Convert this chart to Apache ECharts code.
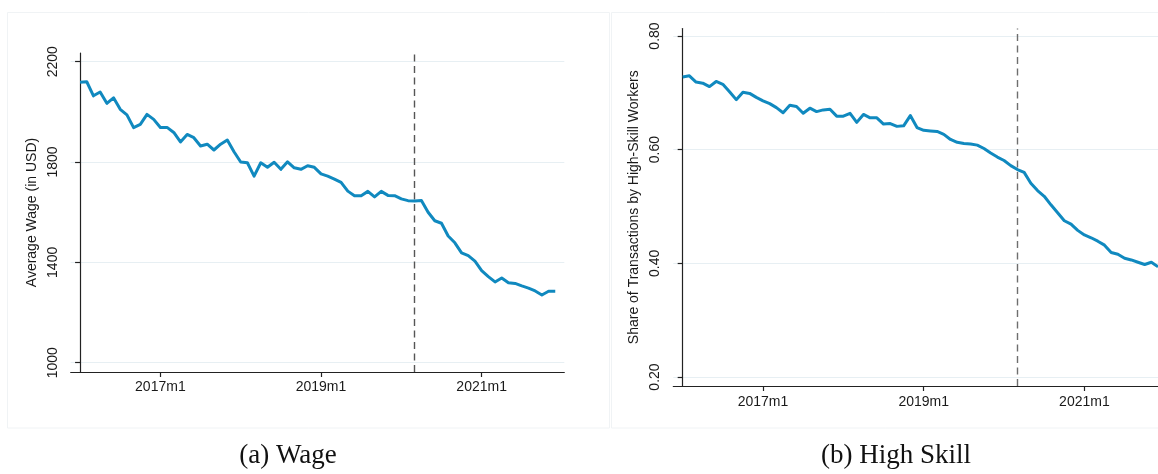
<!DOCTYPE html>
<html>
<head>
<meta charset="utf-8">
<script src="https://cdn.jsdelivr.net/npm/echarts@6/dist/echarts.min.js"></script>
<style>
  html, body { margin: 0; padding: 0; background: #ffffff; }
  #chart { width: 1158px; height: 474px; }
</style>
</head>
<body>
<div id="chart"></div>
<script>
// Monthly periods, 2016m1 .. 2021m12
const months = [];
for (let y = 2016; y <= 2021; y++) {
  for (let m = 1; m <= 12; m++) months.push(y + 'm' + m);
}

// Average wage (USD), one value per month
const avgWage = [
  2118, 2120, 2064, 2079, 2034, 2056, 2010, 1988, 1937, 1950, 1990, 1970,
  1938, 1938, 1918, 1880, 1910, 1897, 1864, 1871, 1848, 1871, 1888, 1841,
  1800, 1797, 1744, 1797, 1779, 1799, 1771, 1801, 1777, 1771, 1785, 1779,
  1753, 1744, 1732, 1719, 1684, 1666, 1666, 1683, 1661, 1683, 1667, 1666,
  1653, 1646, 1645, 1647, 1600, 1566, 1556, 1505, 1478, 1438, 1427, 1405,
  1367, 1343, 1322, 1338, 1319, 1316, 1306, 1297, 1286, 1270, 1285, 1285
];

// Share of transactions carried out by high-skill workers, one value per month
const highSkillShare = [
  0.728, 0.730, 0.719, 0.717, 0.711, 0.720, 0.715, 0.702, 0.688, 0.701, 0.699, 0.692,
  0.686, 0.681, 0.674, 0.665, 0.678, 0.676, 0.664, 0.673, 0.667, 0.670, 0.671, 0.659,
  0.659, 0.664, 0.648, 0.662, 0.656, 0.656, 0.645, 0.646, 0.641, 0.642, 0.660, 0.639,
  0.634, 0.633, 0.632, 0.627, 0.618, 0.613, 0.611, 0.610, 0.608, 0.602, 0.594, 0.587,
  0.581, 0.572, 0.565, 0.560, 0.541, 0.528, 0.518, 0.503, 0.489, 0.475, 0.469, 0.458,
  0.450, 0.445, 0.439, 0.432, 0.419, 0.416, 0.409, 0.406, 0.402, 0.398, 0.402, 0.394
];

// Axis ticks and the reference month
const xTickLabels = ['2017m1', '2019m1', '2021m1'];
const wageTicks = [1000, 1400, 1800, 2200];
const shareTicks = [0.2, 0.4, 0.6, 0.8];
const breakMonth = '2020m3';

const LINE_COLOR = '#1089bf';
const TEXT_COLOR = '#1a1a1a';
const SANS = 'Liberation Sans, Arial, sans-serif';
const SERIF = 'Liberation Serif, Times New Roman, serif';

const xTickValues = xTickLabels.map(l => months.indexOf(l));
const breakIndex = months.indexOf(breakMonth);

function xAxisFor(gridIndex, labelMargin) {
  return {
    type: 'value', gridIndex,
    min: -1.4, max: 72.35,
    axisLine: { show: true, lineStyle: { color: '#222', width: 1.2 } },
    axisTick: { show: true, length: 5, customValues: xTickValues,
                lineStyle: { color: '#222', width: 1.2 } },
    axisLabel: { customValues: xTickValues, margin: labelMargin,
                 formatter: v => months[Math.round(v)] || '',
                 color: TEXT_COLOR, fontSize: 14, fontFamily: SANS },
    splitLine: { show: false }
  };
}

function yAxisFor(gridIndex, opts) {
  return {
    type: 'value', gridIndex,
    min: opts.min, max: opts.max,
    name: opts.name, nameLocation: 'middle', nameGap: 32, nameRotate: 90,
    nameTextStyle: { color: TEXT_COLOR, fontSize: 14, fontFamily: SANS },
    axisLine: { show: true, lineStyle: { color: '#222', width: 1.2 } },
    axisTick: { show: true, length: 5, customValues: opts.ticks,
                lineStyle: { color: '#222', width: 1.2 } },
    axisLabel: { customValues: opts.ticks, rotate: 90, margin: 11,
                 formatter: opts.fmt,
                 color: TEXT_COLOR, fontSize: 14, fontFamily: SANS },
    splitLine: { show: true, lineStyle: { color: '#e7eff3', width: 1 } }
  };
}

function lineSeries(axisIndex, values, dashColor) {
  return {
    type: 'line', xAxisIndex: axisIndex, yAxisIndex: axisIndex,
    data: values.map((v, i) => [i, v]),
    symbol: 'none', smooth: false, clip: true,
    lineStyle: { color: LINE_COLOR, width: 3, join: 'round' },
    z: 3,
    markLine: {
      silent: true, symbol: ['none', 'none'],
      label: { show: false },
      lineStyle: { color: dashColor, width: 1.4, type: [7, 4.5] },
      data: [{ xAxis: breakIndex }],
      z: 2
    }
  };
}

const chart = echarts.init(document.getElementById('chart'), null, { renderer: 'canvas' });

chart.setOption({
  backgroundColor: '#ffffff',
  animation: false,
  grid: [
    { left: 70.7, top: 53, width: 493.6, height: 319,
      containLabel: false, outerBoundsMode: 'none' },
    // the right panel runs past the page edge and is cut off there
    { left: 673.3, top: 28.5, width: 493.8, height: 357.5,
      containLabel: false, outerBoundsMode: 'none' }
  ],
  xAxis: [xAxisFor(0, 8), xAxisFor(1, 9)],
  yAxis: [
    yAxisFor(0, { min: 962.9, max: 2234.7, ticks: wageTicks,
                  name: 'Average Wage (in USD)', fmt: v => String(v) }),
    yAxisFor(1, { min: 0.1842, max: 0.8132, ticks: shareTicks,
                  name: 'Share of Transactions by High-Skill Workers',
                  fmt: v => v.toFixed(2) })
  ],
  series: [
    lineSeries(0, avgWage, '#555555'),
    lineSeries(1, highSkillShare, '#6e6e6e')
  ],
  graphic: [
    { type: 'rect', silent: true, z: -1,
      shape: { x: 7.5, y: 12.5, width: 602, height: 415.5 },
      style: { fill: 'none', stroke: '#f0f3f5', lineWidth: 1 } },
    { type: 'rect', silent: true, z: -1,
      shape: { x: 611.5, y: 12.5, width: 560, height: 415.5 },
      style: { fill: 'none', stroke: '#f0f3f5', lineWidth: 1 } },
    { type: 'text', silent: true, x: 288, y: 456,
      style: { text: '(a) Wage', fill: '#111', font: '27px ' + SERIF,
               align: 'center', verticalAlign: 'middle' } },
    { type: 'text', silent: true, x: 896, y: 456,
      style: { text: '(b) High Skill', fill: '#111', font: '27px ' + SERIF,
               align: 'center', verticalAlign: 'middle' } }
  ]
});
</script>
</body>
</html>
